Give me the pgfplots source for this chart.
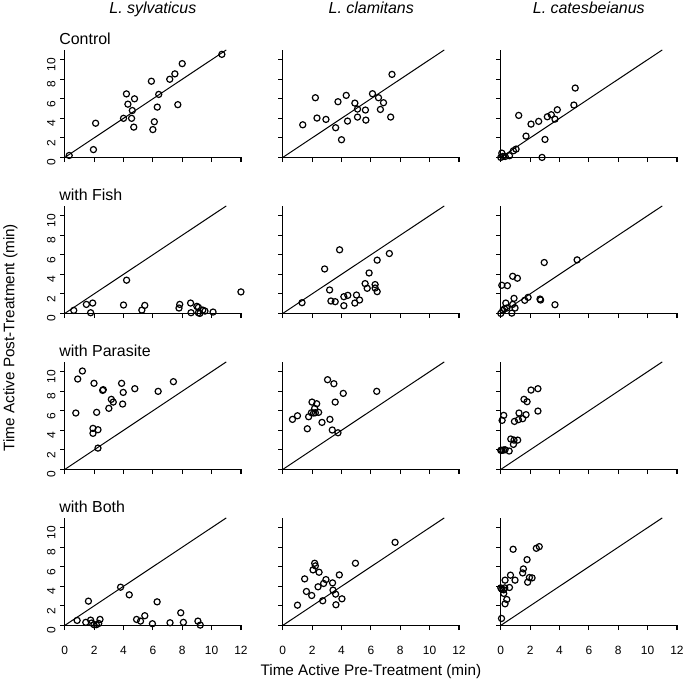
\documentclass[border=0pt]{standalone}
\usepackage{fontspec}
\setmainfont{Liberation Sans}
\usepackage{pgfplots}
\pgfplotsset{compat=1.18}
\usepgfplotslibrary{groupplots}

% 1 px of the reference = 0.75pt
\pgfplotsset{
  frog/.style={
    scale only axis, width=132.5pt, height=80.85pt,
    xmin=0, xmax=12, ymin=0, ymax=11,
    axis x line*=bottom, axis y line*=left,
    axis line style={line width=0.9pt, -},
    xtick={0,2,...,12}, ytick={0,2,...,10},
    tick align=outside, major tick length=3.5pt,
    every tick/.style={black, line width=0.9pt},
    tick label style={font=\fontsize{9}{10}\selectfont},
    /pgf/number format/assume math mode=true,
    xticklabel style={yshift=-8.8pt},
    yticklabel style={rotate=90, anchor=south, xshift=-3.7pt},
    clip=false,
  },
  pts/.style={only marks, mark=o, mark size=2.3pt, line width=0.9pt, black},
  diag/.style={black, line width=0.75pt},
}
\tikzset{
  rowlab/.style={anchor=base west, inner sep=0pt, xshift=-4.3pt, yshift=4.4pt,
    font=\fontsize{12}{14}\selectfont},
}

\begin{document}
\begin{tikzpicture}
\begin{groupplot}[
  group style={group size=3 by 4, horizontal sep=31.5pt, vertical sep=36.5pt,
    xticklabels at=edge bottom, yticklabels at=edge left},
  frog]
% ---- Control
\nextgroupplot
\addplot[diag] coordinates {(0,0) (11,11)};
\addplot[pts] table {
x y
0.3 0.2
1.95 0.8
2.1 3.5
4.0 4.0
4.2 6.5
4.3 5.45
4.75 6.0
4.6 4.8
4.55 4.0
4.7 3.1
5.9 7.8
6.1 3.65
6.0 2.85
6.4 6.45
6.3 5.15
7.15 8.0
7.5 8.55
7.7 5.4
8.0 9.6
10.7 10.55
};
\node[rowlab] at (rel axis cs:0,1) {Control};
\nextgroupplot
\addplot[diag] coordinates {(0,0) (11,11)};
\addplot[pts] table {
x y
1.36 3.34
2.22 6.11
2.33 4.03
2.94 3.89
3.60 3.04
3.76 5.70
4.00 1.81
4.32 6.35
4.41 3.72
4.91 5.56
5.09 4.95
5.09 4.13
5.63 4.85
5.66 3.82
6.11 6.52
6.52 6.11
6.65 4.91
6.86 5.60
7.35 4.13
7.44 8.50
};
\nextgroupplot
\addplot[diag] coordinates {(0,0) (11,11)};
\addplot[pts] table {
x y
0.0 0.0
0.07 0.44
0.14 0.1
0.3 0.1
0.59 0.17
0.86 0.68
1.04 0.85
1.22 4.30
1.72 2.18
2.06 3.41
2.58 3.69
2.81 0.0
3.01 1.84
3.17 4.16
3.44 4.37
3.69 3.92
3.85 4.88
4.98 5.36
5.07 7.10
};
% ---- with Fish
\nextgroupplot
\addplot[diag] coordinates {(0,0) (11,11)};
\addplot[pts] table {
x y
0.61 0.31
1.47 0.92
1.90 1.06
1.76 0.07
4.0 0.86
4.21 3.4
5.25 0.34
5.45 0.82
7.78 0.55
7.83 0.92
8.57 1.06
8.6 0.07
9.0 0.72
9.1 0.62
9.1 0.07
9.2 0.0
9.4 0.34
9.55 0.24
10.1 0.14
12.0 2.2
};
\node[rowlab] at (rel axis cs:0,1) {with Fish};
\nextgroupplot
\addplot[diag] coordinates {(0,0) (11,11)};
\addplot[pts] table {
x y
1.31 1.10
2.85 4.55
3.19 2.40
3.28 1.27
3.57 1.20
3.87 6.51
4.16 0.79
4.16 1.71
4.43 1.85
4.91 1.06
5.02 1.88
5.23 1.37
5.61 3.05
5.75 2.57
5.88 4.14
6.29 2.95
6.29 2.60
6.43 5.45
6.43 2.23
7.26 6.13
};
\nextgroupplot
\addplot[diag] coordinates {(0,0) (11,11)};
\addplot[pts] table {
x y
0.0 0.0
0.07 2.88
0.14 0.31
0.25 0.48
0.34 1.06
0.45 2.84
0.41 0.55
0.75 0.03
0.81 3.80
0.81 0.92
0.90 1.54
0.97 0.55
1.13 3.60
1.63 1.34
1.86 1.64
2.67 1.47
2.71 1.37
2.96 5.21
3.69 0.89
5.2 5.48
};
% ---- with Parasite
\nextgroupplot
\addplot[diag] coordinates {(0,0) (11,11)};
\addplot[pts] table {
x y
0.75 5.77
0.88 9.25
1.20 10.07
1.99 8.81
1.92 4.20
1.92 3.69
2.17 5.84
2.26 4.06
2.26 2.18
2.58 8.09
2.62 8.16
3.0 6.25
3.17 7.17
3.30 6.89
3.87 8.81
3.94 6.69
3.98 7.88
4.77 8.26
6.36 7.99
7.40 8.98
};
\node[rowlab] at (rel axis cs:0,1) {with Parasite};
\nextgroupplot
\addplot[diag] coordinates {(0,0) (11,11)};
\addplot[pts] table {
x y
0.66 5.12
1.0 5.49
1.67 4.16
1.76 5.39
1.99 6.89
1.95 5.80
2.10 5.77
2.17 6.25
2.22 5.80
2.31 6.72
2.44 5.84
2.67 4.81
3.05 9.18
3.21 5.12
3.37 4.03
3.48 8.77
3.57 6.89
3.76 3.75
4.12 7.78
6.40 7.99
};
\nextgroupplot
\addplot[diag] coordinates {(0,0) (11,11)};
\addplot[pts] table {
x y
0.0 1.95
0.07 1.95
0.18 1.98
0.29 2.01
0.57 1.88
0.09 5.02
0.20 5.53
0.68 3.11
0.86 2.56
0.90 3.0
1.15 3.0
0.93 4.91
1.20 5.09
1.24 5.77
1.49 5.19
1.72 5.60
1.58 7.17
1.79 6.93
2.06 8.12
2.53 8.26
2.53 5.97
};
% ---- with Both
\nextgroupplot
\addplot[diag] coordinates {(0,0) (11,11)};
\addplot[pts] table {
x y
0.84 0.51
1.43 0.31
1.61 2.48
1.76 0.54
1.83 0.24
1.99 0.07
2.15 0.07
2.31 0.2
2.40 0.61
3.80 3.91
4.39 3.13
4.89 0.61
5.16 0.44
5.45 0.99
5.97 0.17
6.29 2.41
7.17 0.27
7.90 1.29
8.08 0.31
9.07 0.44
9.23 0.03
};
\node[rowlab] at (rel axis cs:0,1) {with Both};
\nextgroupplot
\addplot[diag] coordinates {(0,0) (11,11)};
\addplot[pts] table {
x y
1.0 2.07
1.49 4.76
1.61 3.47
1.97 3.06
2.06 5.68
2.17 6.36
2.22 6.09
2.40 3.95
2.47 5.44
2.72 2.52
2.78 4.29
2.94 4.69
3.39 4.35
3.42 3.61
3.60 3.20
3.62 2.11
3.85 5.17
4.03 2.72
4.95 6.36
7.65 8.50
};
\nextgroupplot
\addplot[diag] coordinates {(0,0) (11,11)};
\addplot[pts] table {
x y
0.05 0.71
0.0 3.84
0.07 3.71
0.20 3.64
0.27 3.84
0.20 3.27
0.29 2.21
0.41 2.65
0.29 4.63
0.59 3.88
0.66 5.14
0.84 7.79
0.97 4.63
1.49 5.37
1.54 5.78
1.79 6.73
1.83 4.42
1.95 4.90
2.13 4.86
2.42 7.89
2.62 8.06
};
\end{groupplot}
\begin{scope}[shift={(group c1r4.south west)}]
\path[use as bounding box] (-48.75pt,-42.53pt) rectangle (467.25pt,470.48pt);
\node[anchor=base, font=\fontsize{11.5}{13}\selectfont] at (230.25pt,-38pt)
  {Time Active Pre-Treatment (min)};
\node[anchor=base, rotate=90, font=\fontsize{11.5}{13}\selectfont] at (-38pt,216.5pt)
  {Time Active Post-Treatment (min)};
\node[anchor=base, font=\itshape\fontsize{12}{14}\selectfont] at (66.26pt,460pt) {L. sylvaticus};
\node[anchor=base, font=\itshape\fontsize{12}{14}\selectfont] at (230.5pt,460pt) {L. clamitans};
\node[anchor=base, font=\itshape\fontsize{12}{14}\selectfont] at (394.2pt,460pt) {L. catesbeianus};
\end{scope}
\end{tikzpicture}
\end{document}
